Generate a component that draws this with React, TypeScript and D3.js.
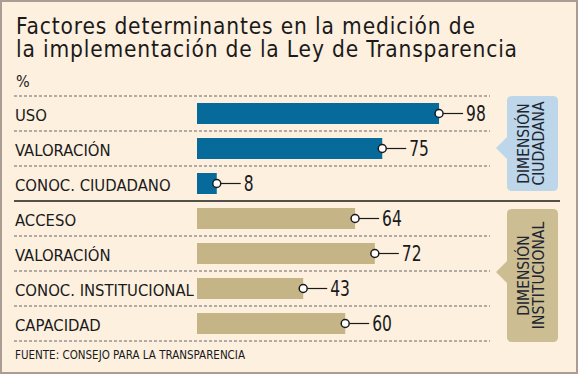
import * as d3 from 'd3';

const categories = [
  'USO',
  'VALORACIÓN',
  'CONOC. CIUDADANO',
  'ACCESO',
  'VALORACIÓN',
  'CONOC. INSTITUCIONAL',
  'CAPACIDAD',
];
const values = [98, 75, 8, 64, 72, 43, 60];
const groups = ['ciudadana', 'ciudadana', 'ciudadana', 'institucional', 'institucional', 'institucional', 'institucional'];
const titleLines = ['Factores determinantes en la medición de', 'la implementación de la Ley de Transparencia'];
const titleWidths = [459, 501];
const tagLines = {
  ciudadana: ['DIMENSIÓN', 'CIUDADANA'],
  institucional: ['DIMENSIÓN', 'INSTITUCIONAL'],
};

const W = 578;
const H = 374;
const BG = '#fdf0df';
const FONT = '"DejaVu Sans Condensed", "DejaVu Sans", sans-serif';
const INK = '#1a1a1a';
const barColor = { ciudadana: '#066a9b', institucional: '#c4b486' };
const tagColor = { ciudadana: '#bdd6ea', institucional: '#ccbd92' };

// scales
const x = d3.scaleLinear().domain([0, 100]).range([197, 444]);
const y = d3
  .scaleBand<number>()
  .domain(categories.map((_, i) => i))
  .range([96, 341])
  .paddingInner(0.4)
  .paddingOuter(0.2);

const step = y.step();
const rowTop = (i: number) => (y(i) as number) - (step - y.bandwidth()) / 2;

// rounded tag with a left pointer
function tagPath(x0: number, x1: number, y0: number, y1: number, py: number) {
  const r = 5;
  const p = d3.path();
  p.moveTo(x0 + r, y0);
  p.lineTo(x1 - r, y0);
  p.quadraticCurveTo(x1, y0, x1, y0 + r);
  p.lineTo(x1, y1 - r);
  p.quadraticCurveTo(x1, y1, x1 - r, y1);
  p.lineTo(x0 + r, y1);
  p.quadraticCurveTo(x0, y1, x0, y1 - r);
  p.lineTo(x0, py + 11);
  p.lineTo(x0 - 11, py);
  p.lineTo(x0, py - 11);
  p.lineTo(x0, y0 + r);
  p.quadraticCurveTo(x0, y0, x0 + r, y0);
  p.closePath();
  return p.toString();
}

export default function App() {
  const firstInst = groups.indexOf('institucional');
  const tags = [
    { key: 'ciudadana', y0: 96, y1: 191, py: 148 },
    { key: 'institucional', y0: 209, y1: 342, py: 272 },
  ] as const;

  return (
    <svg
      width={W}
      height={H}
      style={{ position: 'absolute', left: 0, top: 0 }}
      xmlns="http://www.w3.org/2000/svg"
    >
      <rect x={1} y={1} width={W - 2} height={H - 2} fill={BG} stroke="#ab9d94" strokeWidth={2} />

      {titleLines.map((t, i) => (
        <text
          key={i}
          x={16}
          y={34 + i * 23}
          fontFamily={FONT}
          fontSize={22.5}
          fill={INK}
          textLength={titleWidths[i]}
          lengthAdjust="spacing"
        >
          {t}
        </text>
      ))}
      <text x={16} y={87} fontFamily={FONT} fontSize={16} fill={INK}>
        %
      </text>

      {/* row separators */}
      {d3.range(categories.length + 1).map((i) => {
        const yy = i < categories.length ? rowTop(i) : rowTop(i - 1) + step;
        if (i === firstInst) {
          return <line key={i} x1={14} x2={560} y1={yy} y2={yy} stroke={INK} strokeWidth={1.5} />;
        }
        return (
          <line
            key={i}
            x1={14}
            x2={490}
            y1={yy}
            y2={yy}
            stroke="#666"
            strokeWidth={1}
            strokeDasharray="3,2"
          />
        );
      })}

      {categories.map((c, i) => {
        const yc = (y(i) as number) + y.bandwidth() / 2;
        const xe = x(values[i]);
        return (
          <g key={i}>
            <text x={15} y={yc + 7} fontFamily={FONT} fontSize={16.5} fill={INK}>
              {c}
            </text>
            <rect
              x={x(0)}
              y={y(i)}
              width={xe - x(0)}
              height={y.bandwidth()}
              fill={barColor[groups[i] as 'ciudadana']}
            />
            <line x1={xe + 4} x2={xe + 24} y1={yc} y2={yc} stroke={INK} strokeWidth={1.2} />
            <circle cx={xe} cy={yc} r={4} fill="#fff" stroke={INK} strokeWidth={1.5} />
            <text
              transform={`translate(${xe + 27},${yc + 7.5}) scale(0.84,1)`}
              fontFamily={FONT}
              fontSize={20.5}
              fill={INK}
            >
              {values[i]}
            </text>
          </g>
        );
      })}

      {tags.map((t) => {
        const cy = (t.y0 + t.y1) / 2;
        return (
          <g key={t.key}>
            <path d={tagPath(507, 558, t.y0, t.y1, t.py)} fill={tagColor[t.key]} />
            <g transform={`translate(531,${cy}) rotate(-90)`}>
              {tagLines[t.key].map((l, j) => (
                <text
                  key={j}
                  x={0}
                  y={-2 + j * 15}
                  textAnchor="middle"
                  fontFamily={FONT}
                  fontSize={15.5}
                  fill="#1c2530"
                >
                  {l}
                </text>
              ))}
            </g>
          </g>
        );
      })}

      <text x={15} y={359} fontFamily={FONT} fontSize={11.5} fill={INK}>
        FUENTE: CONSEJO PARA LA TRANSPARENCIA
      </text>
    </svg>
  );
}
